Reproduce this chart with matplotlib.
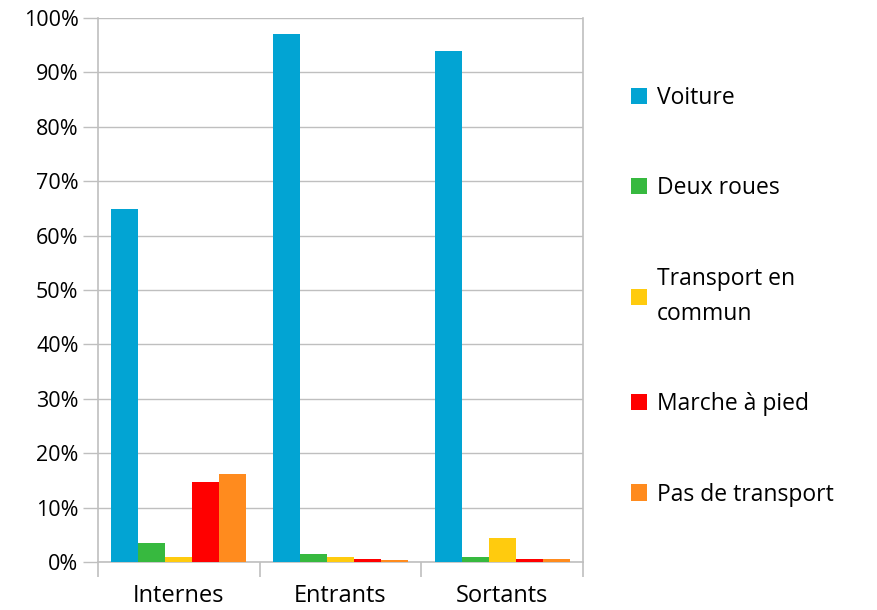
import numpy as np
import matplotlib.pyplot as plt
from matplotlib.ticker import PercentFormatter

plt.rcParams['font.family'] = ['Open Sans', 'DejaVu Sans']

categories = ['Internes', 'Entrants', 'Sortants']
modes = ['Voiture', 'Deux roues', 'Transport en\ncommun', 'Marche à pied', 'Pas de transport']
colors = ['#02A4D3', '#37B93F', '#FFCB0E', '#FF0000', '#FF8B1E']

voiture = [64.9, 97.1, 93.9]
deux_roues = [3.5, 1.5, 0.9]
transport_commun = [0.9, 0.9, 4.4]
marche = [14.7, 0.5, 0.5]
pas_transport = [16.2, 0.3, 0.5]
series = [voiture, deux_roues, transport_commun, marche, pas_transport]

fig = plt.figure(figsize=(8.78, 6.10), dpi=100)
ax = fig.add_axes([0.1116, 0.0787, 0.5524, 0.8918])

x = np.arange(len(categories))
w = 1 / 6
for i, (vals, lab, c) in enumerate(zip(series, modes, colors)):
    ax.bar(x - 2 * w + i * w, vals, width=w, color=c, label=lab, zorder=3)

ax.set_xlim(-0.5, 2.5)
ax.set_ylim(0, 100)
ax.set_yticks(np.arange(0, 101, 10))
ax.yaxis.set_major_formatter(PercentFormatter(decimals=0))
ax.grid(axis='y', color='#BFBFBF', linewidth=1, zorder=0)

ax.set_xticks(x)
ax.set_xticklabels(categories)
ax.set_xticks([-0.5, 0.5, 1.5, 2.5], minor=True)
ax.tick_params(axis='x', which='major', length=0, labelsize=17, pad=16)
ax.tick_params(axis='x', which='minor', length=11, color='#BFBFBF', width=1.2)
ax.tick_params(axis='y', length=11, color='#BFBFBF', width=1, labelsize=15.5, pad=3)

for s in ax.spines.values():
    s.set_color('#BFBFBF')
    s.set_linewidth(1.2)
ax.spines['top'].set_visible(False)

leg = fig.legend(loc='upper left', bbox_to_anchor=(0.695, 0.893), frameon=False,
                 fontsize=16.5, handlelength=0.7, handleheight=0.7, handletextpad=0.45,
                 labelspacing=2.9)
for t in leg.get_texts():
    t.set_linespacing(1.6)

fig.savefig('out.png', dpi=100)
